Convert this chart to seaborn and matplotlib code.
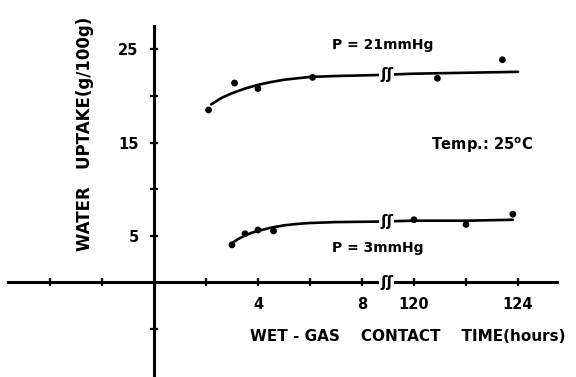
import numpy as np
import pandas as pd
import matplotlib
matplotlib.use('Agg')
import matplotlib.pyplot as plt
import seaborn as sns

# measured points (hours, g/100g)
hours_21 = [2.1, 3.1, 4.0, 6.1, 120.9, 123.4]
uptake_21 = [18.5, 21.4, 20.8, 22.0, 21.9, 23.9]
hours_3 = [3.0, 3.5, 4.0, 4.6, 120.0, 122.0, 123.8]
uptake_3 = [4.0, 5.2, 5.6, 5.5, 6.7, 6.2, 7.3]

# hand-drawn fit curves
curve_hours_21 = [2.2, 2.6, 3.0, 3.5, 4.0, 4.5, 5.0, 5.5, 6.0, 7.0, 8.5, 120, 122, 124]
curve_vals_21 = [19.1, 19.8, 20.3, 20.8, 21.2, 21.5, 21.75, 21.9, 22.05, 22.15, 22.25, 22.4, 22.5, 22.6]
curve_hours_3 = [3.0, 3.25, 3.5, 3.75, 4.0, 4.5, 5.0, 5.5, 6.0, 7.0, 8.5, 120, 122, 123.8]
curve_vals_3 = [4.2, 4.65, 5.0, 5.3, 5.5, 5.85, 6.1, 6.25, 6.35, 6.45, 6.5, 6.6, 6.6, 6.7]

x_ticks = [-4, -2, 2, 4, 6, 8, 120, 122, 124]
x_labels = ['', '', '', '4', '', '8', '120', '', '124']
y_ticks = [-5, 5, 10, 15, 20, 25]
y_labels = ['', '5', '', '15', '', '25']


# broken time axis: 9..119.5 h squeezed into half a unit
def fwd(t):
    t = np.asarray(t, dtype=float)
    return np.where(t <= 9, t, np.where(t < 119.5, 9 + (t - 9) * 0.5 / 110.5, t - 110))


def inv(x):
    x = np.asarray(x, dtype=float)
    return np.where(x <= 9, x, np.where(x < 9.5, 9 + (x - 9) * 110.5 / 0.5, x + 110))


sns.set_theme(style='white')
plt.rcParams['font.family'] = ['DejaVu Sans']
plt.rcParams['text.color'] = 'black'

fig = plt.figure(figsize=(5.76, 3.77), dpi=100)
ax = fig.add_axes([0, 0, 1, 1])
ax.set_xscale('function', functions=(fwd, inv))
ax.set_xlim(inv(-5.92), inv(16.23))
ax.set_ylim(-10.2, 30.32)

pts = pd.DataFrame({'hours': hours_21 + hours_3, 'uptake': uptake_21 + uptake_3})
sns.scatterplot(data=pts, x='hours', y='uptake', color='black', s=24,
                edgecolor='none', ax=ax, zorder=4)
sns.lineplot(x=curve_hours_21, y=curve_vals_21, sort=False, color='black',
             lw=1.9, ax=ax, zorder=3)
sns.lineplot(x=curve_hours_3, y=curve_vals_3, sort=False, color='black',
             lw=1.9, ax=ax, zorder=3)

# axes through the origin
for s in ['top', 'right']:
    ax.spines[s].set_visible(False)
ax.spines['left'].set_position(('data', 0))
ax.spines['bottom'].set_position(('data', 0))
ax.spines['left'].set_bounds(-10, 27.5)
ax.spines['bottom'].set_bounds(inv(-5.6), inv(15.5))
for s in ['left', 'bottom']:
    ax.spines[s].set_linewidth(2.2)
    ax.spines[s].set_color('black')

ax.set_xticks(x_ticks)
ax.set_xticklabels(x_labels)
ax.set_yticks(y_ticks)
ax.set_yticklabels(y_labels)
ax.minorticks_off()
ax.tick_params(bottom=True, left=True, direction='inout', length=6, width=1.6,
               color='black', labelcolor='black', labelsize=10.5, pad=8)
for lab in ax.get_xticklabels() + ax.get_yticklabels():
    lab.set_fontweight('bold')
ax.set_xlabel('')
ax.set_ylabel('')

# break marks on the time axis and on both curves
for yv in [0, 22.3, 6.5]:
    ax.text(inv(8.95), yv, 'ʃʃ', ha='center', va='center', fontsize=11,
            fontweight='bold', zorder=5,
            bbox=dict(facecolor='white', edgecolor='none', pad=0.5))

ax.text(inv(-2.65), 15.9, 'WATER   UPTAKE(g/100g)', rotation=90, ha='center',
        va='center', fontsize=12, fontweight='bold')
ax.text(inv(9.75), -5.9, 'WET - GAS    CONTACT    TIME(hours)', ha='center',
        va='center', fontsize=11, fontweight='bold')
ax.text(inv(8.8), 25.5, 'P = 21mmHg', ha='center', va='center', fontsize=10,
        fontweight='bold')
ax.text(inv(8.6), 3.7, 'P = 3mmHg', ha='center', va='center', fontsize=10,
        fontweight='bold')
ax.text(inv(12.6), 14.7, 'Temp.: 25$^{\\mathbf{o}}$C', ha='center', va='center',
        fontsize=10.5, fontweight='bold')

fig.savefig('out.png', dpi=100)
